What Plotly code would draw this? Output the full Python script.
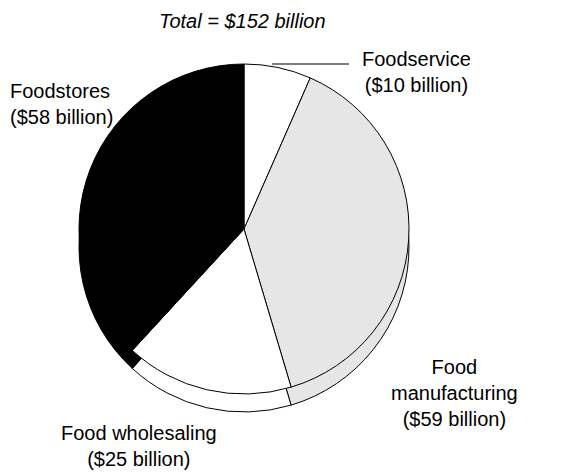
import plotly.graph_objects as go

# Food marketing segments, billions of dollars
segments = ["Foodservice", "Food manufacturing", "Food wholesaling", "Foodstores"]
values = [10, 59, 25, 58]
label_lines = [["Foodservice"], ["Food", "manufacturing"], ["Food wholesaling"], ["Foodstores"]]
slice_colors = ["#ffffff", "#e6e6e6", "#ffffff", "#000000"]
total = sum(values)

W, H = 584, 475
FONT = "Liberation Sans, Arial, sans-serif"


def px_x(x):
    return x / W


def px_y(y):
    return 1 - y / H


# pie face: centre and radius in pixels, plus the depth of the rim
cx, cy, r, depth = 244, 229, 165, 18


def pie(offset):
    return go.Pie(
        labels=segments,
        values=values,
        sort=False,
        direction="clockwise",
        rotation=0,
        textinfo="none",
        hoverinfo="label+value",
        showlegend=False,
        marker=dict(colors=slice_colors, line=dict(color="#000000", width=1)),
        domain=dict(
            x=[px_x(cx - r), px_x(cx + r)],
            y=[px_y(cy + offset + r), px_y(cy + offset - r)],
        ),
    )


fig = go.Figure()
fig.add_trace(pie(depth))  # rim underneath
fig.add_trace(pie(0))      # top face

# label placement (pixel centre, alignment)
label_pos = {
    "Foodservice": (416, 72, "center"),
    "Food manufacturing": (455, 393, "center"),
    "Food wholesaling": (139, 446, "center"),
    "Foodstores": (8, 104, "left"),
}

annotations = [
    dict(
        text=f"<i>Total = ${total} billion</i>",
        x=px_x(242), y=px_y(21), xref="paper", yref="paper",
        xanchor="center", yanchor="middle",
        showarrow=False, font=dict(family=FONT, size=20, color="#000000"),
    )
]
for name, lines, v in zip(segments, label_lines, values):
    x, y, align = label_pos[name]
    annotations.append(dict(
        text="<br>".join(lines + [f"(${v} billion)"]),
        x=px_x(x), y=px_y(y), xref="paper", yref="paper",
        xanchor="left" if align == "left" else "center", yanchor="middle",
        align=align, showarrow=False,
        font=dict(family=FONT, size=20, color="#000000"),
    ))

fig.update_layout(
    width=W, height=H,
    margin=dict(l=0, r=0, t=0, b=0),
    paper_bgcolor="#ffffff",
    plot_bgcolor="#ffffff",
    annotations=annotations,
    shapes=[dict(
        type="line", xref="paper", yref="paper",
        x0=px_x(272), x1=px_x(349), y0=px_y(64), y1=px_y(64),
        line=dict(color="#000000", width=1),
    )],
)

fig.write_html("out.html")
